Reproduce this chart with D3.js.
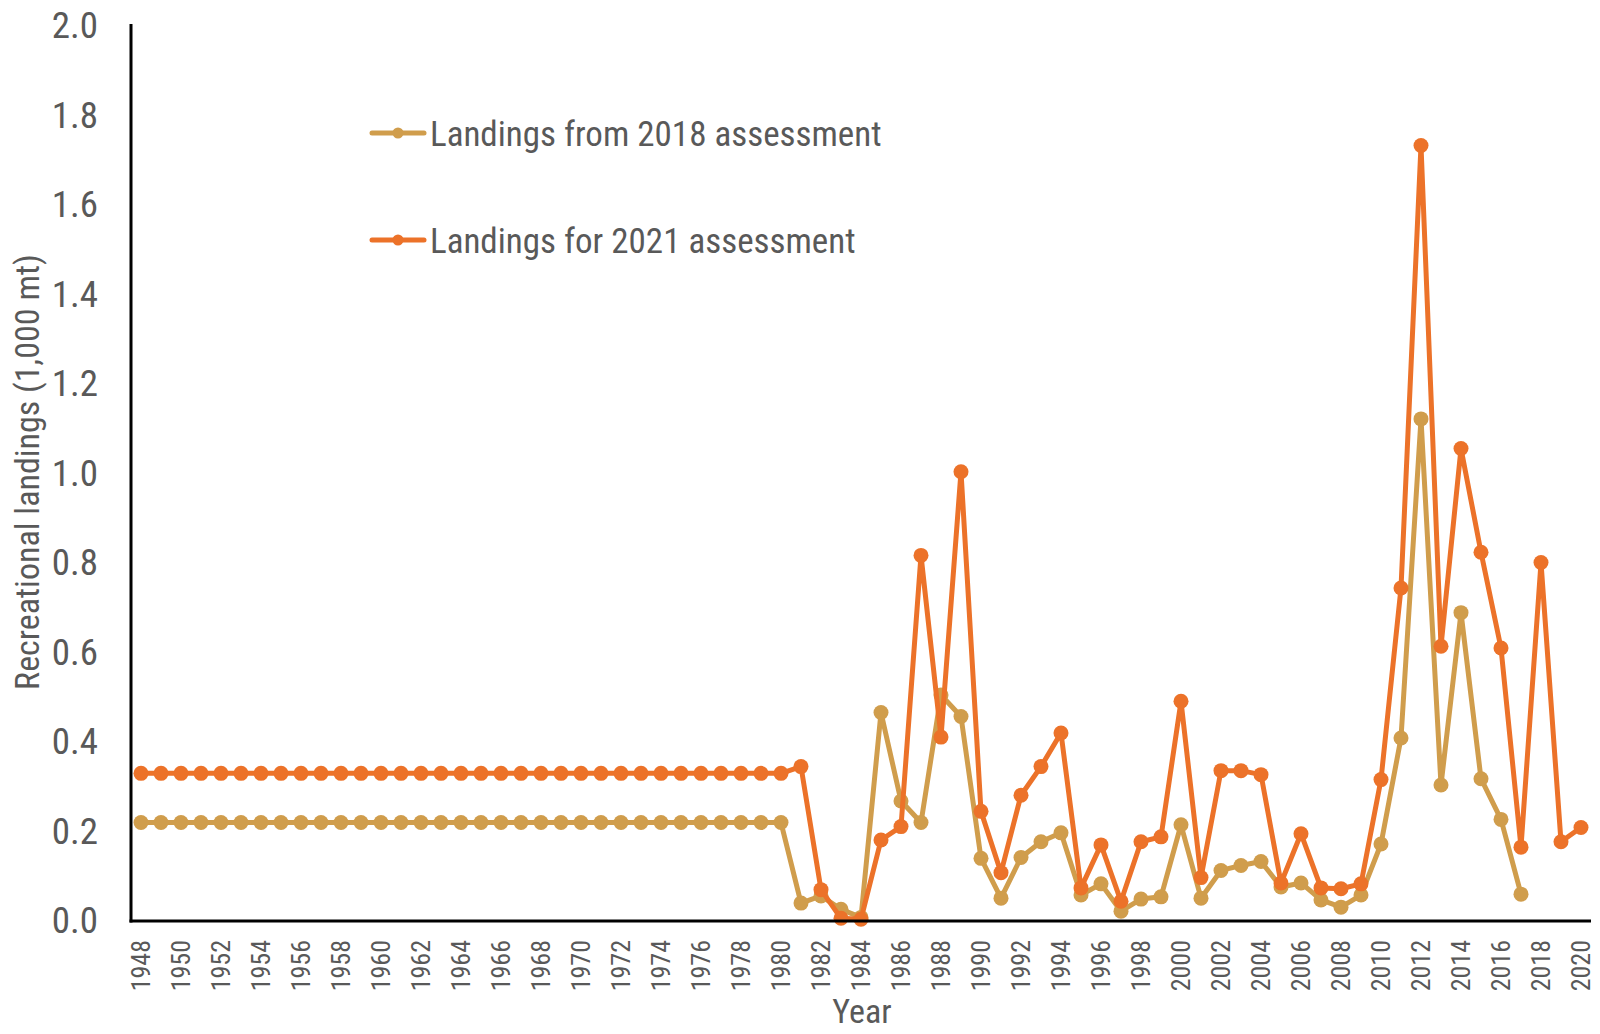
<!DOCTYPE html>
<html><head><meta charset="utf-8">
<script src="https://cdn.jsdelivr.net/npm/d3@7/dist/d3.min.js"></script>
<style>
body{margin:0;background:#fff;}
text{font-family:"Liberation Sans Narrow","Arial Narrow","Roboto Condensed","DejaVu Sans Condensed",sans-serif;fill:#595959;}
</style></head>
<body><svg id="c" width="1600" height="1034"></svg>
<script>
const years = d3.range(1948, 2021);
const yTicks = [0,0.2,0.4,0.6,0.8,1.0,1.2,1.4,1.6,1.8,2.0];
const xTickLabels = years.filter(y => (y - 1948) % 2 === 0);
const seriesNames = ["Landings from 2018 assessment", "Landings for 2021 assessment"];
const seriesColors = ["#D09D4C", "#EC7229"];
// 1948-1980 constant values then annual
const landings2018 = [
  0.22,0.22,0.22,0.22,0.22,0.22,0.22,0.22,0.22,0.22,0.22,0.22,0.22,0.22,0.22,0.22,0.22,
  0.22,0.22,0.22,0.22,0.22,0.22,0.22,0.22,0.22,0.22,0.22,0.22,0.22,0.22,0.22,0.22,
  0.040,0.056,0.026,0.008,0.466,0.268,0.220,0.505,0.457,0.140,0.051,0.142,0.177,0.197,
  0.058,0.083,0.022,0.049,0.054,0.215,0.051,0.113,0.124,0.133,0.076,0.085,0.047,0.031,
  0.058,0.172,0.409,1.122,0.304,0.689,0.318,0.227,0.060,null,null,null
];
const landings2021 = [
  0.33,0.33,0.33,0.33,0.33,0.33,0.33,0.33,0.33,0.33,0.33,0.33,0.33,0.33,0.33,0.33,0.33,
  0.33,0.33,0.33,0.33,0.33,0.33,0.33,0.33,0.33,0.33,0.33,0.33,0.33,0.33,0.33,0.33,
  0.345,0.070,0.006,0.004,0.181,0.211,0.817,0.411,1.004,0.245,0.108,0.281,0.345,0.420,
  0.074,0.170,0.044,0.177,0.188,0.491,0.097,0.336,0.336,0.327,0.085,0.195,0.074,0.072,
  0.083,0.316,0.744,1.733,0.614,1.056,0.824,0.610,0.165,0.801,0.177,0.209
];
const seriesValues = [landings2018, landings2021];

const svg = d3.select("#c");
const mLeft = 131, mRight = 1591, mTop = 26, mBottom = 921;
const x = d3.scaleBand().domain(years).range([mLeft, mRight]).paddingInner(0).paddingOuter(0);
const cx = yr => x(yr) + x.bandwidth()/2;
const y = d3.scaleLinear().domain([0, 2]).range([mBottom, mTop]);

// y tick labels
const yAxis = d3.axisLeft(y).tickValues(yTicks).tickFormat(d3.format(".1f")).tickSize(0).tickPadding(33);
const gy = svg.append("g").attr("transform", `translate(${mLeft},0)`).call(yAxis);
gy.select(".domain").remove();
gy.selectAll("text").style("font-size","37px").attr("fill","#595959");

// x tick labels
const xAxis = d3.axisBottom(x).tickValues(xTickLabels).tickSize(0).tickPadding(0);
const gx = svg.append("g").attr("transform", `translate(0,${mBottom})`).call(xAxis);
gx.select(".domain").remove();
gx.selectAll("text").style("font-size","26px").attr("fill","#595959")
  .attr("transform","rotate(-90)").attr("text-anchor","end")
  .attr("x",-19).attr("y",0).attr("dy","0.35em");

// lines
const line = d3.line().defined(d => d.v != null).x(d => cx(d.yr)).y(d => y(d.v));
seriesValues.forEach((vals, si) => {
  const data = years.map((yr,i) => ({yr, v: vals[i]}));
  svg.append("path").datum(data).attr("d", line).attr("fill","none")
    .attr("stroke", seriesColors[si]).attr("stroke-width",5).attr("stroke-linejoin","round");
  svg.append("g").selectAll("circle").data(data.filter(d => d.v != null)).join("circle")
    .attr("cx", d => cx(d.yr)).attr("cy", d => y(d.v)).attr("r", 7.5)
    .attr("fill", seriesColors[si]);
});

// axes lines
svg.append("line").attr("x1",mLeft).attr("x2",mLeft).attr("y1",mTop-2).attr("y2",mBottom+1.5)
  .attr("stroke","#000").attr("stroke-width",3);
svg.append("line").attr("x1",mLeft-1.5).attr("x2",mRight).attr("y1",mBottom).attr("y2",mBottom)
  .attr("stroke","#000").attr("stroke-width",3);

// legend
const legY = [133, 240];
seriesNames.forEach((name, i) => {
  const g = svg.append("g");
  g.append("line").attr("x1",372).attr("x2",424).attr("y1",legY[i]).attr("y2",legY[i])
    .attr("stroke",seriesColors[i]).attr("stroke-width",5).attr("stroke-linecap","round");
  g.append("circle").attr("cx",398).attr("cy",legY[i]).attr("r",5.5).attr("fill",seriesColors[i]);
  g.append("text").attr("x",430).attr("y",legY[i]+12.5).style("font-size","35px").text(name);
});

// titles
svg.append("text").attr("transform","translate(39,472) rotate(-90)").attr("text-anchor","middle")
  .style("font-size","34px").text("Recreational landings (1,000 mt)");
svg.append("text").attr("x",862).attr("y",1023).attr("text-anchor","middle")
  .style("font-size","34px").text("Year");
</script></body></html>
